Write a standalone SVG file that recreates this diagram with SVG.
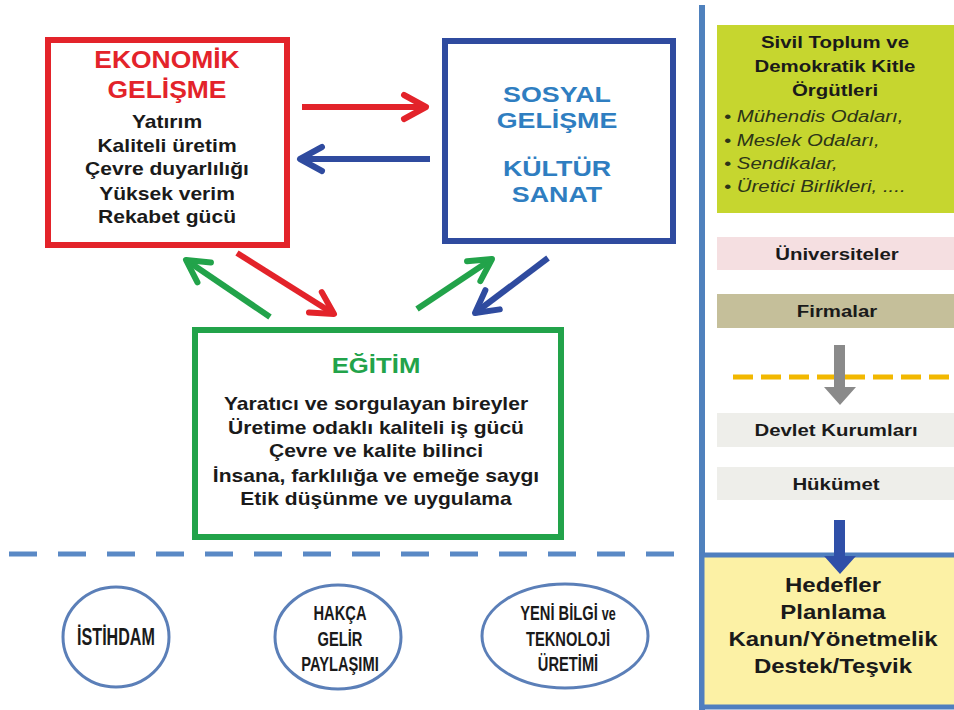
<svg xmlns="http://www.w3.org/2000/svg" width="954" height="710" viewBox="0 0 954 710">
<style>
text{font-family:"Liberation Sans",Arial,sans-serif;font-weight:bold;text-anchor:middle;fill:#1a1a1a}
.tr{fill:#e3232a;font-size:23px}
.tb{fill:#2f7ec1;font-size:22px}
.tg{fill:#22a34a;font-size:22px}
.b18{font-size:18px}
.r17{font-size:17px}
.it{font-size:17px;font-style:italic;font-weight:normal;text-anchor:start;fill:#2c3418}
.h20{font-size:20px}
.el{font-size:23px}
.el2{font-size:21px}
.arr{fill:none;stroke-width:6;stroke-linecap:butt}
.ell{fill:#fff;stroke:#5b7fb8;stroke-width:3}
</style>
<defs>
<marker id="mr" markerUnits="userSpaceOnUse" markerWidth="34" markerHeight="34" viewBox="-28 -17 34 34" refX="0" refY="0" orient="auto"><path d="M-22,-12 L0,0 L-22,12" fill="none" stroke="#e3232a" stroke-width="6" stroke-linejoin="round" stroke-linecap="round"/></marker>
<marker id="mb" markerUnits="userSpaceOnUse" markerWidth="34" markerHeight="34" viewBox="-28 -17 34 34" refX="0" refY="0" orient="auto"><path d="M-22,-12 L0,0 L-22,12" fill="none" stroke="#2f4b9f" stroke-width="6" stroke-linejoin="round" stroke-linecap="round"/></marker>
<marker id="mg" markerUnits="userSpaceOnUse" markerWidth="34" markerHeight="34" viewBox="-28 -17 34 34" refX="0" refY="0" orient="auto"><path d="M-22,-12 L0,0 L-22,12" fill="none" stroke="#22a34a" stroke-width="6" stroke-linejoin="round" stroke-linecap="round"/></marker>
</defs>
<rect width="954" height="710" fill="#fff"/>

<g id="ekonomik">
<rect x="48" y="40" width="239" height="205" fill="#fff" stroke="#e3232a" stroke-width="6"/>
<g transform="translate(167,0) scale(1.15,1)">
<text class="tr" y="68">EKONOMİK</text>
<text class="tr" y="98">GELİŞME</text>
</g>
<g transform="translate(167,0) scale(1.17,1)">
<text class="b18" y="128">Yatırım</text>
<text class="b18" y="152">Kaliteli üretim</text>
<text class="b18" y="175">Çevre duyarlılığı</text>
<text class="b18" y="200">Yüksek verim</text>
<text class="b18" y="223">Rekabet gücü</text>
</g>
</g>

<g id="sosyal">
<rect x="445" y="41" width="228" height="200" fill="#fff" stroke="#2f4b9f" stroke-width="6"/>
<g transform="translate(557,0) scale(1.22,1)">
<text class="tb" y="102">SOSYAL</text>
<text class="tb" y="128">GELİŞME</text>
<text class="tb" y="176">KÜLTÜR</text>
<text class="tb" y="202">SANAT</text>
</g>
</g>

<g id="egitim">
<rect x="195" y="330" width="366" height="207" fill="#fff" stroke="#22a34a" stroke-width="6"/>
<g transform="translate(376,0) scale(1.17,1)">
<text class="tg" y="373">EĞİTİM</text>
<text class="b18" y="410">Yaratıcı ve sorgulayan bireyler</text>
<text class="b18" y="434">Üretime odaklı kaliteli iş gücü</text>
<text class="b18" y="457">Çevre ve kalite bilinci</text>
<text class="b18" y="482">İnsana, farklılığa ve emeğe saygı</text>
<text class="b18" y="505">Etik düşünme ve uygulama</text>
</g>
</g>

<g id="connectors">
<line class="arr" x1="302" y1="107" x2="426" y2="107" stroke="#e3232a" marker-end="url(#mr)"/>
<line class="arr" x1="430" y1="159" x2="300" y2="159" stroke="#2f4b9f" marker-end="url(#mb)"/>
<line class="arr" x1="270" y1="317" x2="186" y2="260" stroke="#22a34a" marker-end="url(#mg)"/>
<line class="arr" x1="237" y1="253" x2="334" y2="314" stroke="#e3232a" marker-end="url(#mr)"/>
<line class="arr" x1="417" y1="309" x2="492" y2="259" stroke="#22a34a" marker-end="url(#mg)"/>
<line class="arr" x1="548" y1="258" x2="475" y2="313" stroke="#2f4b9f" marker-end="url(#mb)"/>
</g>

<line id="separator" x1="9" y1="554" x2="690" y2="554" stroke="#5a89c5" stroke-width="5" stroke-dasharray="28 21"/>

<g id="istihdam">
<ellipse class="ell" cx="116" cy="637" rx="53" ry="50"/>
<g transform="translate(116,0) scale(0.7,1)"><text class="el" y="645">İSTİHDAM</text></g>
</g>
<g id="hakca">
<ellipse class="ell" cx="338" cy="637" rx="63" ry="52"/>
<g transform="translate(340,0) scale(0.7,1)">
<text class="el2" y="620">HAKÇA</text>
<text class="el2" y="646">GELİR</text>
<text class="el2" y="671">PAYLAŞIMI</text>
</g>
</g>
<g id="yenibilgi">
<ellipse class="ell" cx="565" cy="636" rx="83" ry="52"/>
<g transform="translate(568,0) scale(0.7,1)">
<text class="el2" y="620">YENİ BİLGİ <tspan style="font-size:18px">ve</tspan></text>
<text class="el2" y="646">TEKNOLOJİ</text>
<text class="el2" y="671">ÜRETİMİ</text>
</g>
</g>

<line id="divider" x1="702" y1="5" x2="702" y2="710" stroke="#4f81bd" stroke-width="6"/>

<g id="sivil">
<rect x="717" y="25" width="240" height="188" fill="#c6d62f"/>
<g transform="translate(835,0) scale(1.2,1)">
<text class="r17" y="48">Sivil Toplum ve</text>
<text class="r17" y="72">Demokratik Kitle</text>
<text class="r17" y="96">Örgütleri</text>
</g>
<g transform="translate(724,0) scale(1.2,1)">
<text class="it" y="122">• Mühendis Odaları,</text>
<text class="it" y="146">• Meslek Odaları,</text>
<text class="it" y="169">• Sendikalar,</text>
<text class="it" y="192">• Üretici Birlikleri, ....</text>
</g>
</g>

<g id="universiteler">
<rect x="717" y="237" width="240" height="33" fill="#f5dfe1"/>
<g transform="translate(837,0) scale(1.2,1)"><text class="r17" y="260">Üniversiteler</text></g>
</g>
<g id="firmalar">
<rect x="717" y="294" width="240" height="34" fill="#c5bf9a"/>
<g transform="translate(837,0) scale(1.2,1)"><text class="r17" y="317">Firmalar</text></g>
</g>

<line id="yellowline" x1="733" y1="377" x2="952" y2="377" stroke="#f2b800" stroke-width="5" stroke-dasharray="20 8"/>
<polygon id="grayarrow" points="834,345 845,345 845,387 856,387 840,405 824,387 834,387" fill="#8a8a8a"/>

<g id="devlet">
<rect x="717" y="413" width="240" height="34" fill="#eeeeea"/>
<g transform="translate(836,0) scale(1.2,1)"><text class="r17" y="436">Devlet Kurumları</text></g>
</g>
<g id="hukumet">
<rect x="717" y="467" width="240" height="33" fill="#eeeeea"/>
<g transform="translate(836,0) scale(1.2,1)"><text class="r17" y="490">Hükümet</text></g>
</g>

<g id="hedefler">
<rect x="702" y="555" width="260" height="152" fill="#fcf1a5" stroke="#4f7fbf" stroke-width="5"/>
<g transform="translate(833,0) scale(1.2,1)">
<text class="h20" y="592">Hedefler</text>
<text class="h20" y="619">Planlama</text>
<text class="h20" y="646">Kanun/Yönetmelik</text>
<text class="h20" y="673">Destek/Teşvik</text>
</g>
</g>
<polygon id="bluearrow" points="834,520 845,520 845,556 856,556 840,574 824,556 834,556" fill="#2f4fa8"/>
</svg>
